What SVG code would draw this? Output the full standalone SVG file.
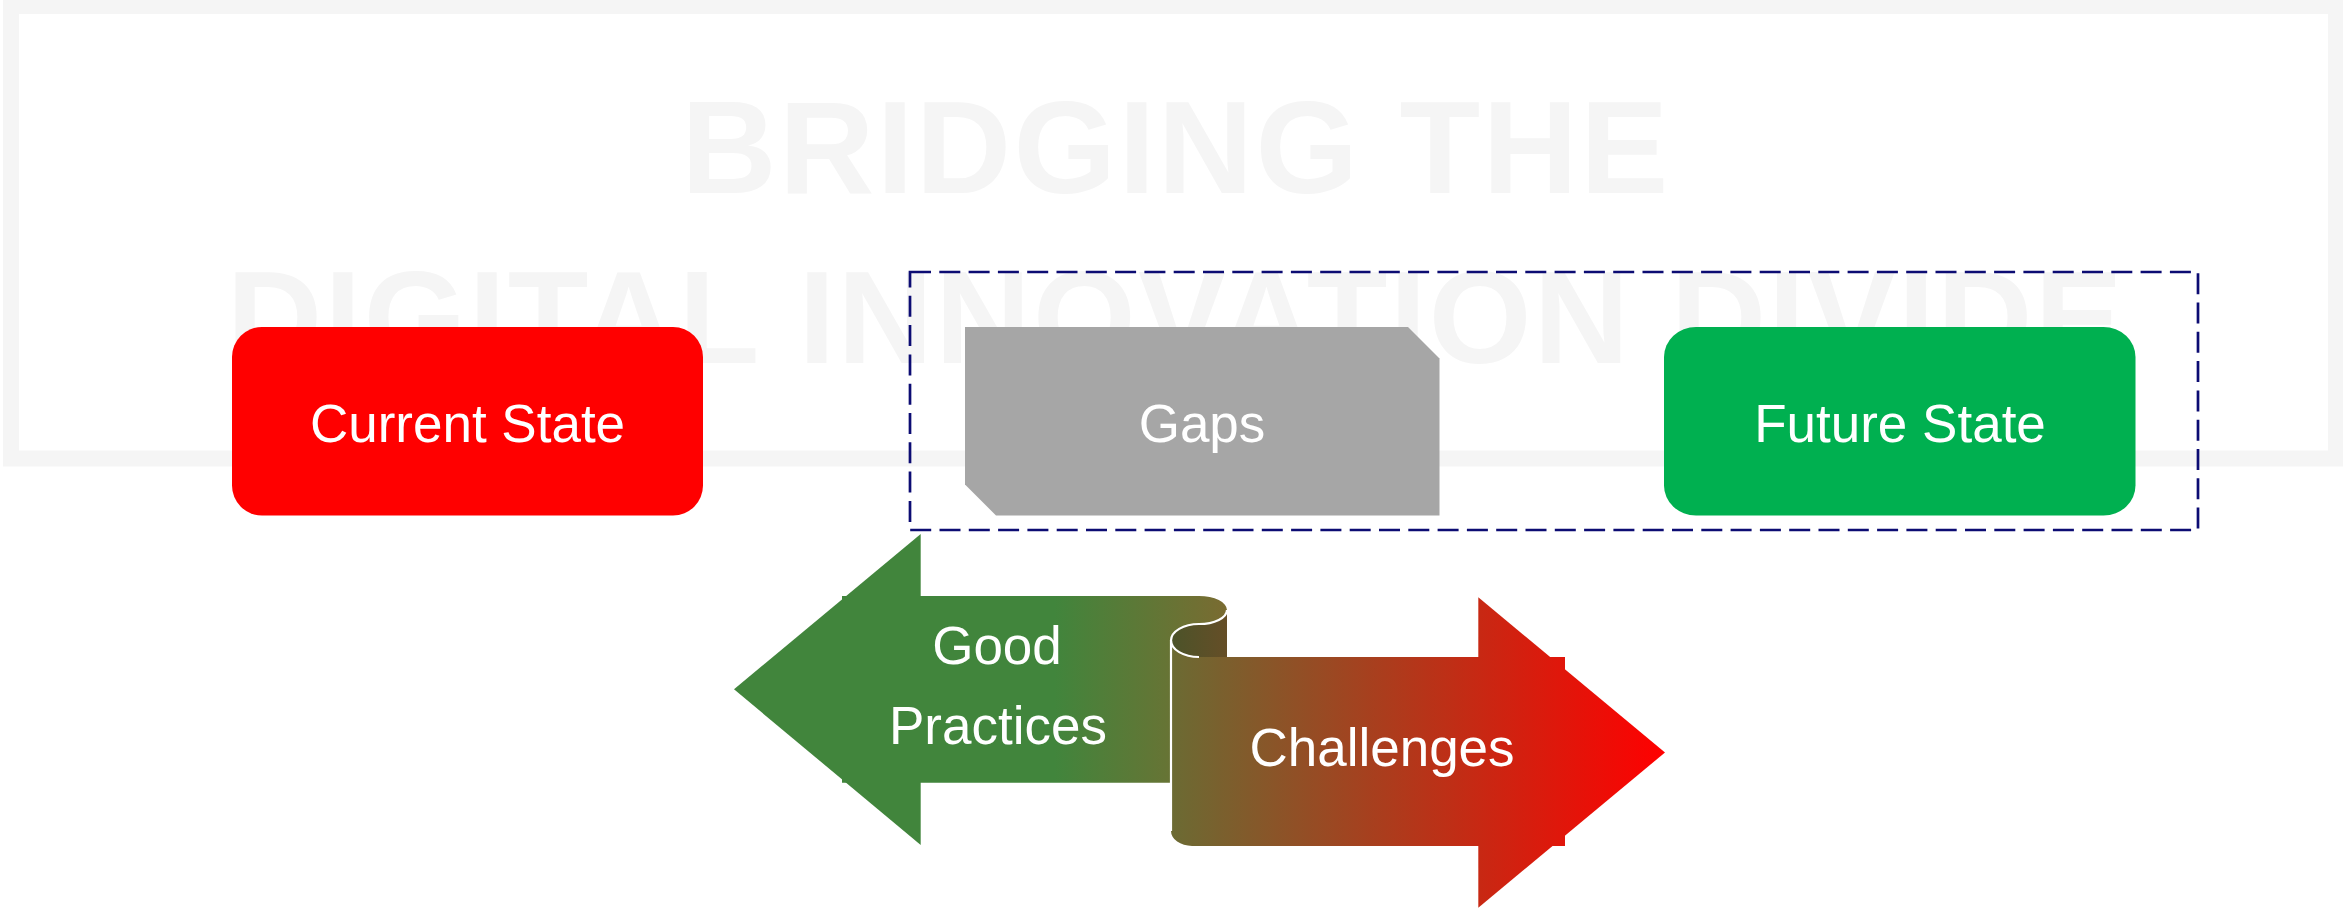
<svg xmlns="http://www.w3.org/2000/svg" width="2343" height="908" viewBox="0 0 2343 908">
  <defs>
    <style>
      .title { font-family: "Liberation Sans", Arial, Helvetica, sans-serif; font-weight: bold; font-size: 132px; letter-spacing: 2.4px; fill: #f5f5f5; text-anchor: middle; }
      .label { font-family: "Liberation Sans", Arial, Helvetica, sans-serif; font-size: 53px; fill: #ffffff; text-anchor: middle; }
      .ribbon-line { fill: none; stroke: #ffffff; stroke-width: 2.2; }
    </style>
    <linearGradient id="gpGrad" gradientUnits="userSpaceOnUse" x1="1055" y1="0" x2="1227" y2="0">
      <stop offset="0" stop-color="#41853c"/>
      <stop offset="1" stop-color="#7a6b31"/>
    </linearGradient>
    <linearGradient id="darkGrad" gradientUnits="userSpaceOnUse" x1="1171" y1="0" x2="1227" y2="0">
      <stop offset="0" stop-color="#4b5329"/>
      <stop offset="1" stop-color="#654e27"/>
    </linearGradient>
    <linearGradient id="chGrad" gradientUnits="userSpaceOnUse" x1="1171" y1="0" x2="1665" y2="0">
      <stop offset="0" stop-color="#6b6b33"/>
      <stop offset="1" stop-color="#ff0000"/>
    </linearGradient>
  </defs>

  <g id="title-frame">
    <rect x="11" y="6" width="2325" height="452.5" fill="none" stroke="#f5f5f5" stroke-width="16"/>
    <text class="title" x="1176" y="193">BRIDGING THE</text>
    <text class="title" x="1176" y="363">DIGITAL INNOVATION DIVIDE</text>
  </g>

  <g id="gap-boundary">
    <rect x="910" y="272" width="1288" height="258" fill="none" stroke="#0c0c73" stroke-width="2.7" stroke-dasharray="21 8.3"/>
  </g>

  <g id="current-state">
    <rect x="232" y="327" width="471" height="188.5" rx="30" ry="30" fill="#ff0000"/>
    <text class="label" x="467.5" y="442">Current State</text>
  </g>

  <g id="gaps">
    <path d="M965,327 H1408 L1439.5,358.5 V515.5 H996 L965,484.5 Z" fill="#a6a6a6"/>
    <text class="label" x="1202" y="442">Gaps</text>
  </g>

  <g id="future-state">
    <rect x="1664" y="327" width="471.5" height="188.5" rx="32" ry="30" fill="#00b050"/>
    <text class="label" x="1900" y="442">Future State</text>
  </g>

  <g id="good-practices">
    <path d="M734,689.3 L920.7,534 L920.7,845 Z" fill="url(#gpGrad)"/>
    <path d="M842,596 H1199 A28,14 0 0 1 1227,610 A28,14 0 0 1 1199,624 A28,16.5 0 0 0 1171,640.5 V782.7 H842 Z" fill="url(#gpGrad)"/>
    <text class="label" x="997" y="664">Good</text>
    <text class="label" x="998" y="744">Practices</text>
  </g>

  <g id="challenges">
    <path d="M1199,657 A28,16.5 0 0 1 1171,640.5 A28,16.5 0 0 1 1199,624 A28,14 0 0 0 1227,610 V657 Z" fill="url(#darkGrad)"/>
    <path d="M1171,640.5 A28,16.5 0 0 0 1199,657 H1565 V846 H1192 A21,15 0 0 1 1171,831 Z" fill="url(#chGrad)"/>
    <path d="M1478.3,597.3 L1665,752.5 L1478.3,907.7 Z" fill="url(#chGrad)"/>
    <path class="ribbon-line" d="M1199,657 A28,16.5 0 0 1 1171,640.5 A28,16.5 0 0 1 1199,624 A28,14 0 0 0 1227,610"/>
    <path class="ribbon-line" d="M1171,640.5 V831"/>
    <text class="label" x="1382" y="766">Challenges</text>
  </g>

  <g id="connectors"/>
</svg>
